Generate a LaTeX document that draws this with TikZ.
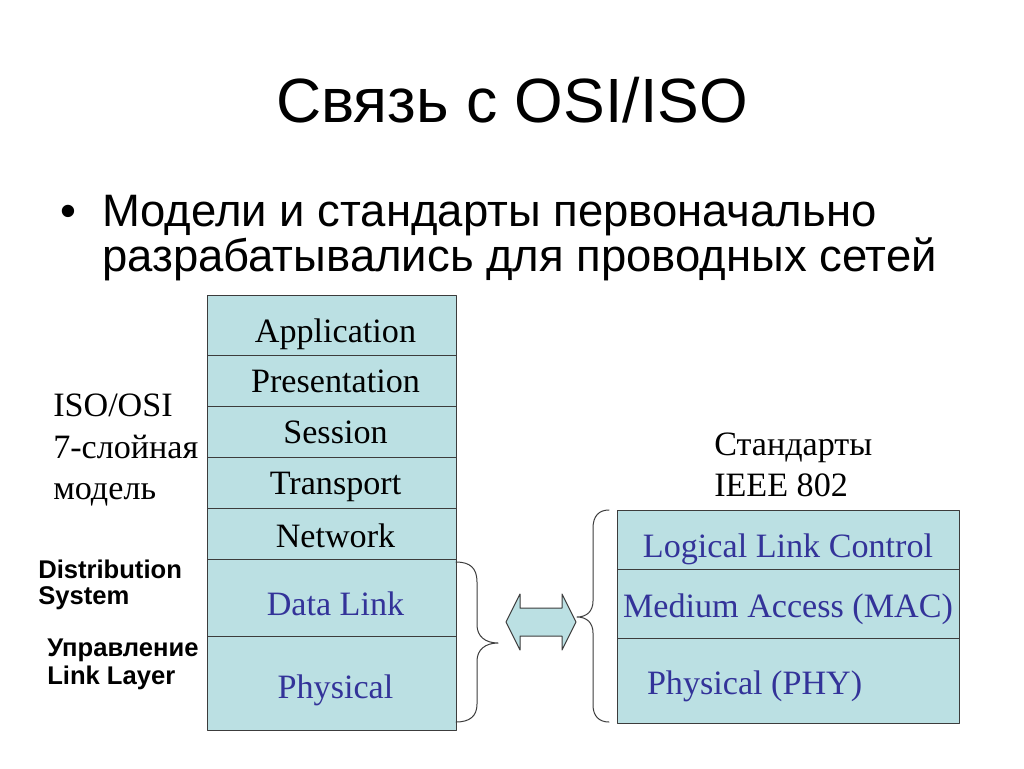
\documentclass[tikz,border=0pt]{standalone}
\usepackage{fontspec}
\setmainfont{Liberation Serif}
\setsansfont{Liberation Sans}
\usetikzlibrary{positioning}
\definecolor{cellfill}{RGB}{187,224,227}
\definecolor{cellline}{RGB}{60,60,60}
\definecolor{linkblue}{RGB}{51,51,153}
\begin{document}
\begin{tikzpicture}[x=0.75pt,y=-0.75pt, line join=round, line cap=round,
	layer/.style={draw=cellline, fill=cellfill, line width=0.75pt, inner sep=0pt, outer sep=0pt, minimum width=186.75pt, font=\fontsize{25.6}{30}\selectfont},
	side/.style={anchor=base west, inner sep=0pt, font=\fontsize{25.6}{30}\selectfont},
	tag/.style={anchor=base west, inner sep=0pt, font=\sffamily\bfseries\fontsize{19.2}{22}\selectfont},
	brc/.style={draw=cellline, line width=0.75pt}]
	\path[fill=white] (0,0) rectangle (1024,768);
	% heading and bullet
	\node[anchor=base, inner sep=0pt, font=\sffamily\fontsize{46.9}{50}\selectfont] (title) at (512,122) {Связь с OSI/ISO};
	\node[anchor=base west, inner sep=0pt, font=\sffamily\fontsize{34.1}{36}\selectfont] (dot) at (60,226) {•};
	\node[anchor=base west, inner sep=0pt, font=\sffamily\fontsize{34.1}{36}\selectfont] (line1) at (102,226) {Модели и стандарты первоначально};
	\node[anchor=base west, inner sep=0pt, font=\sffamily\fontsize{34.1}{36}\selectfont] (line2) at (102,271) {разрабатывались для проводных сетей};
	% OSI stack
	\node[layer, anchor=north west, text height=35.25pt, text depth=9.75pt] (app) at (207,295) {\hspace*{6pt}Application};
	\node[layer, below=0pt of app, text height=27.75pt, text depth=10.5pt] (pres) {\hspace*{6pt}Presentation};
	\node[layer, below=0pt of pres, text height=27.75pt, text depth=10.5pt] (sess) {\hspace*{6pt}Session};
	\node[layer, below=0pt of sess, text height=27.75pt, text depth=10.5pt] (trans) {\hspace*{6pt}Transport};
	\node[layer, below=0pt of trans, text height=29.25pt, text depth=9pt] (net) {\hspace*{6pt}Network};
	\node[layer, below=0pt of net, text height=42pt, text depth=15.75pt, text=linkblue] (dl) {\hspace*{6pt}Data Link};
	\node[layer, below=0pt of dl, text height=46.5pt, text depth=24pt, text=linkblue] (phy) {\hspace*{6pt}Physical};
	% IEEE 802 stack
	\node[layer, minimum width=256.5pt, anchor=north west, text height=35.25pt, text depth=9pt, text=linkblue] (llc) at (617,510) {Logical Link Control};
	\node[layer, minimum width=256.5pt, below=0pt of llc, text height=36pt, text depth=15.75pt, text=linkblue] (mac) {Medium Access (MAC)};
	\node[layer, minimum width=256.5pt, inner xsep=22.5pt, below=0pt of mac, text height=42pt, text depth=21.75pt, text=linkblue] (phy2) {\makebox[211.5pt][l]{Physical (PHY)}};
	% side labels
	\node[side] (iso1) at (53,416) {ISO/OSI};
	\node[side] (iso2) at (53,458) {7-слойная};
	\node[side] (iso3) at (53,499) {модель};
	\node[side] (ieee1) at (714,455) {Стандарты};
	\node[side] (ieee2) at (714,496) {IEEE 802};
	\node[tag] (ds1) at (38,578) {Distribution};
	\node[tag] (ds2) at (38,604) {System};
	\node[tag] (ll1) at (47,656) {Управление};
	\node[tag] (ll2) at (47,684) {Link Layer};
	% braces and double arrow
	\draw[brc] (456,562) .. controls (470,562) and (477,568) .. (477,582) -- (477,625) .. controls (477,636) and (485,643) .. (498,643) .. controls (485,643) and (477,650) .. (477,661) -- (477,704) .. controls (477,716) and (470,722) .. (456,722);
	\draw[brc] (609,510) .. controls (599,510) and (593,516) .. (593,528) -- (593,601) .. controls (593,611) and (587,617) .. (577,617) .. controls (587,617) and (593,623) .. (593,633) -- (593,705) .. controls (593,716) and (599,722) .. (609,722);
	\draw[draw=cellline, fill=cellfill, line width=0.75pt] (506,622) -- (520,594) -- (520,608) -- (562,608) -- (562,594) -- (576,622) -- (562,650) -- (562,636) -- (520,636) -- (520,650) -- cycle;
\end{tikzpicture}
\end{document}
